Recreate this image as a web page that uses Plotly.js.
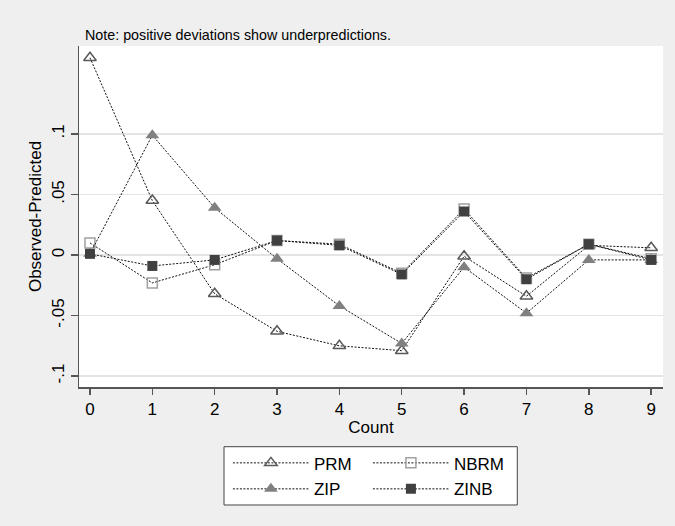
<!DOCTYPE html>
<html>
<head>
<meta charset="utf-8">
<script src="https://cdn.plot.ly/plotly-3.0.1.min.js"></script>
<style>html,body{margin:0;padding:0;background:#efefef;}#chart{width:675px;height:526px;}</style>
</head>
<body>
<div id="chart"></div>
<script>
var counts = [0, 1, 2, 3, 4, 5, 6, 7, 8, 9];
var prm  = [0.163, 0.045, -0.032, -0.063, -0.075, -0.079, -0.001, -0.034, 0.008, 0.006];
var nbrm = [0.010, -0.023, -0.008, 0.012, 0.009, -0.015, 0.038, -0.019, 0.009, -0.003];
var zip  = [0.001, 0.099, 0.039, -0.003, -0.042, -0.073, -0.010, -0.048, -0.004, -0.004];
var zinb = [0.001, -0.009, -0.004, 0.012, 0.008, -0.016, 0.036, -0.020, 0.009, -0.004];
var yTickVals = [-0.1, -0.05, 0, 0.05, 0.1];
var yTickText = ['-.1', '-.05', '0', '.05', '.1'];
var xTickVals = counts;

var FONT = 'Liberation Sans, Arial, sans-serif';
var lineStyle = {color: '#111', width: 1, dash: '2px,1.5px'};

var traces = [
  {x: counts, y: prm, name: 'PRM', mode: 'lines+markers', line: lineStyle,
   marker: {symbol: 'triangle-up-open', size: 11, color: '#5a5a5a', line: {width: 1.5, color: '#5a5a5a'}}, legend: 'legend'},
  {x: counts, y: nbrm, name: 'NBRM', mode: 'lines+markers', line: lineStyle,
   marker: {symbol: 'square-open', size: 10, color: '#a0a0a0', line: {width: 1.5, color: '#a0a0a0'}}, legend: 'legend'},
  {x: counts, y: zip, name: 'ZIP', mode: 'lines+markers', line: lineStyle,
   marker: {symbol: 'triangle-up', size: 12, color: '#808080'}, legend: 'legend2'},
  {x: counts, y: zinb, name: 'ZINB', mode: 'lines+markers', line: lineStyle,
   marker: {symbol: 'square', size: 10, color: '#404040'}, legend: 'legend2'}
];

var legendCommon = {
  orientation: 'h', xanchor: 'left', yanchor: 'middle',
  bgcolor: 'rgba(0,0,0,0)', borderwidth: 0,
  itemwidth: 76, entrywidth: 49,
  font: {family: FONT, size: 17, color: '#000'},
  itemclick: false, itemdoubleclick: false
};

var layout = {
  width: 675, height: 526,
  paper_bgcolor: '#efefef', plot_bgcolor: '#ffffff',
  margin: {l: 79, r: 12, t: 46, b: 139},
  font: {family: FONT, size: 17, color: '#000'},
  xaxis: {
    range: [-0.176, 9.19], tickvals: xTickVals, ticktext: xTickVals.map(String),
    showgrid: false, zeroline: false, showline: true, linecolor: '#555', linewidth: 1.5,
    ticks: 'outside', ticklen: 6, tickwidth: 1.5, tickcolor: '#555',
    tickfont: {family: FONT, size: 17, color: '#000'},
    title: {text: 'Count', font: {family: FONT, size: 17, color: '#000'}, standoff: 3}
  },
  yaxis: {
    range: [-0.109, 0.1727], tickvals: yTickVals, ticktext: yTickText, tickangle: -90,
    showgrid: true, gridcolor: '#e4e4e4', gridwidth: 1.5, zeroline: false,
    showline: true, linecolor: '#555', linewidth: 1.5,
    ticks: 'outside', ticklen: 7, tickwidth: 1.5, tickcolor: '#555',
    tickfont: {family: FONT, size: 17, color: '#000'},
    title: {text: 'Observed-Predicted', font: {family: FONT, size: 17, color: '#000'}, standoff: 3}
  },
  legend: Object.assign({}, legendCommon, {x: 0.255, y: -0.2238}),
  legend2: Object.assign({}, legendCommon, {x: 0.255, y: -0.300}),
  shapes: [{
    type: 'rect', xref: 'paper', yref: 'paper', layer: 'below',
    x0: 0.2483, x1: 0.7505, y0: -0.1751, y1: -0.346,
    fillcolor: '#ffffff', line: {color: '#444', width: 1}
  }],
  annotations: [{
    text: 'Note: positive deviations show underpredictions.',
    xref: 'paper', yref: 'paper', x: 0.0068, y: 1.032, xanchor: 'left', yanchor: 'middle',
    showarrow: false, font: {family: FONT, size: 14.3, color: '#000'}
  }]
};

Plotly.newPlot('chart', traces, layout, {displayModeBar: false, staticPlot: true});
</script>
</body>
</html>
